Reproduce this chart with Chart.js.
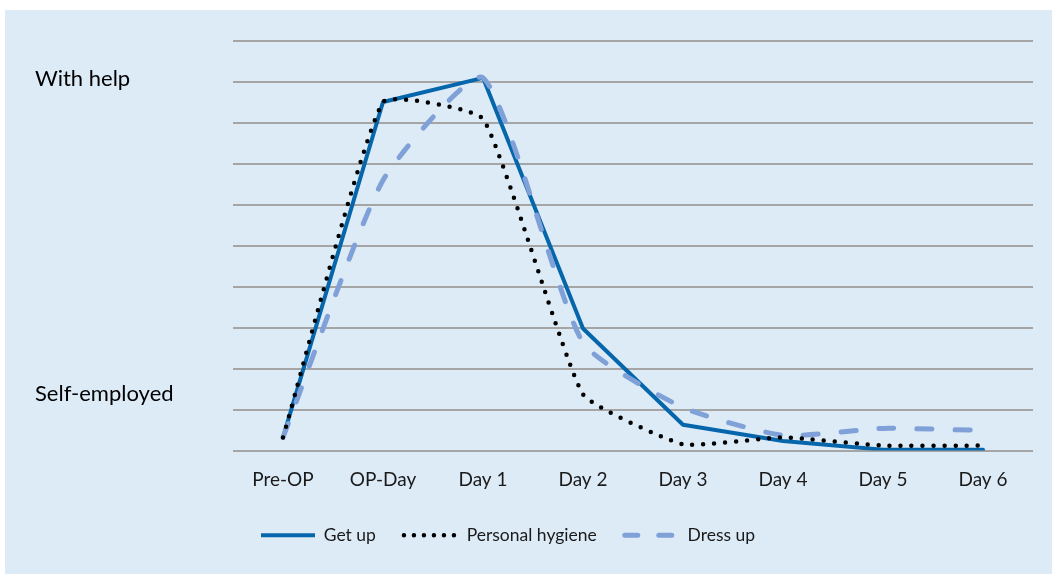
<!DOCTYPE html>
<html>
<head>
<meta charset="utf-8">
<script src="https://cdn.jsdelivr.net/npm/chart.js@4.4.1/dist/chart.umd.min.js"></script>
<style>
  html, body { margin: 0; padding: 0; background: #ffffff; }
  #box { position: absolute; left: 5px; top: 10px; width: 1047px; height: 564px; background: #ddebf7; }
  canvas { display: block; }
</style>
</head>
<body>
<div id="box"><canvas id="c" width="1047" height="564"></canvas></div>
<script>
// ---- data ----
const categories = ["Pre-OP", "OP-Day", "Day 1", "Day 2", "Day 3", "Day 4", "Day 5", "Day 6"];
const getUp = [0.32, 8.51, 9.1, 2.98, 0.63, 0.23, 0.02, 0.02];
const personalHygiene = [0.32, 8.51, 8.1, 1.37, 0.15, 0.32, 0.12, 0.12];
const dressUp = [0.32, 6.6, 9.1, 2.63, 1.05, 0.37, 0.54, 0.49];
const gridValues = [0, 1, 2, 3, 4, 5, 6, 7, 8, 9, 10];
const yLabelValues = [1.38, 9.07];
const yLabelTexts = ["Self-employed", "With help"];
const seriesNames = ["Get up", "Personal hygiene", "Dress up"];

const FONT = "Lato, 'Open Sans', sans-serif";
const GRID = '#a5a5a5';

const legendDash = [[], [0, 10], [13, 21]];

new Chart(document.getElementById('c'), {
  type: 'line',
  data: {
    labels: categories,
    datasets: [
      { label: seriesNames[0], data: getUp, borderColor: '#0666ac', backgroundColor: '#0666ac',
        borderWidth: 4, tension: 0, pointRadius: 0, pointHoverRadius: 0, order: 3,
        borderCapStyle: 'round', borderJoinStyle: 'round' },
      { label: seriesNames[1], data: personalHygiene, borderColor: '#000000', backgroundColor: '#000000',
        borderWidth: 4.5, borderDash: [0, 11], borderCapStyle: 'round', tension: 0.13,
        pointRadius: 0, pointHoverRadius: 0, order: 1 },
      { label: seriesNames[2], data: dressUp, borderColor: '#7fa1d8', backgroundColor: '#7fa1d8',
        borderWidth: 5, borderDash: [15, 23], borderCapStyle: 'round', tension: 0.18,
        pointRadius: 0, pointHoverRadius: 0, order: 2 }
    ]
  },
  options: {
    responsive: false,
    animation: false,
    events: [],
    layout: { padding: { left: 30, right: 19, top: 31, bottom: 20 } },
    scales: {
      x: {
        offset: true,
        grid: { display: false },
        border: { display: false },
        ticks: { color: '#1a1a1a', font: { family: FONT, size: 19 }, padding: 10, maxRotation: 0 },
        afterFit: (s) => { s.height = 48; }
      },
      y: {
        min: 0, max: 10,
        afterBuildTicks: (s) => {
          s.ticks = gridValues.map(v => ({ value: v })).concat(yLabelValues.map(v => ({ value: v })));
        },
        afterFit: (s) => { s.width = 198; },
        grid: {
          drawTicks: false,
          lineWidth: 2,
          color: (ctx) => (ctx.tick && yLabelValues.includes(ctx.tick.value)) ? 'rgba(0,0,0,0)' : GRID
        },
        border: { display: false },
        ticks: {
          autoSkip: false,
          crossAlign: 'far',
          padding: 0,
          color: '#000000',
          font: { family: FONT, size: 22 },
          callback: (value) => {
            const i = yLabelValues.indexOf(value);
            return i >= 0 ? yLabelTexts[i] : '';
          }
        }
      }
    },
    plugins: {
      tooltip: { enabled: false },
      legend: {
        position: 'bottom',
        fullSize: false,
        align: 'start',
        labels: {
          usePointStyle: true,
          pointStyle: 'line',
          pointStyleWidth: 54,
          padding: 28,
          color: '#1a1a1a',
          font: { family: FONT, size: 17.5 },
          generateLabels: (chart) => chart.data.datasets.map((ds, i) => ({
            text: ds.label,
            fillStyle: ds.borderColor,
            strokeStyle: ds.borderColor,
            fontColor: '#1a1a1a',
            lineWidth: i === 0 ? 4 : (i === 1 ? 4.5 : 5),
            lineDash: legendDash[i],
            lineCap: i === 0 ? 'butt' : 'round',
            pointStyle: 'line',
            hidden: false,
            datasetIndex: i
          }))
        }
      }
    }
  }
});
</script>
</body>
</html>
